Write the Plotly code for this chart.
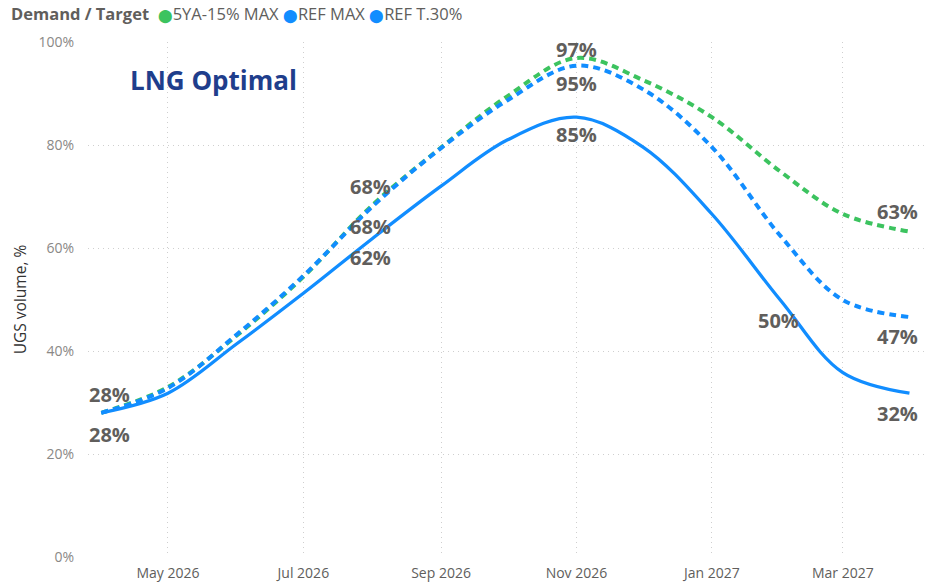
import plotly.graph_objects as go

# ---- data ----
dates = ["2026-04-01", "2026-05-01", "2026-06-01", "2026-07-01", "2026-08-01",
         "2026-09-01", "2026-10-01", "2026-11-01", "2026-12-01", "2027-01-01",
         "2027-02-01", "2027-03-01", "2027-03-31"]
green_5ya = [28.0, 33.0, 43.0, 54.4, 68.3, 79.5, 89.5, 96.9, 92.6, 85.4, 74.8, 66.6, 63.2]
ref_max = [28.0, 32.8, 43.2, 54.6, 68.0, 79.4, 88.7, 95.4, 90.8, 79.6, 62.3, 49.9, 46.6]
ref_t30 = [28.0, 31.8, 41.4, 51.2, 61.8, 72.0, 81.0, 85.4, 79.6, 66.6, 49.8, 35.8, 31.8]

series_names = ["5YA-15% MAX", "REF MAX", "REF T.30%"]
legend_title = "Demand / Target"
chart_title = "LNG Optimal"
y_ticks = [0, 20, 40, 60, 80, 100]
y_tick_labels = ["0%", "20%", "40%", "60%", "80%", "100%"]
x_ticks = ["2026-05-01", "2026-07-01", "2026-09-01", "2026-11-01", "2027-01-01", "2027-03-01"]
x_tick_labels = ["May 2026", "Jul 2026", "Sep 2026", "Nov 2026", "Jan 2027", "Mar 2027"]

# data labels: (series index, point index, yshift, xshift)
label_spec = [
    (1, 0, 18, 8), (2, 0, -22, 8),
    (0, 4, 19, -2), (1, 4, -20, -2), (2, 4, -19, -2),
    (0, 7, 8, 0), (1, 7, -18, 0), (2, 7, -17, 0),
    (2, 10, -20, -2),
    (0, 12, 20, -12), (1, 12, -19, -12), (2, 12, -20, -12),
]

GREEN = "#3CC35F"
BLUE = "#118DFF"
all_series = [green_5ya, ref_max, ref_t30]
dash_style = "7px,5px"

fig = go.Figure()
fig.add_trace(go.Scatter(x=dates, y=green_5ya, name=series_names[0], mode="lines",
                         line=dict(color=GREEN, width=4, dash=dash_style, shape="spline", smoothing=1.0)))
fig.add_trace(go.Scatter(x=dates, y=ref_max, name=series_names[1], mode="lines",
                         line=dict(color=BLUE, width=4, dash=dash_style, shape="spline", smoothing=1.0)))
fig.add_trace(go.Scatter(x=dates, y=ref_t30, name=series_names[2], mode="lines",
                         line=dict(color=BLUE, width=3.3, shape="spline", smoothing=1.0)))

annotations = []
for s, i, ys, xs in label_spec:
    annotations.append(dict(x=dates[i], y=all_series[s][i], xref="x", yref="y",
                            text=f"{round(all_series[s][i])}%", showarrow=False,
                            yshift=ys, xshift=xs,
                            font=dict(family="Open Sans", size=20, color="#605E5C", weight="bold")))

# chart title
annotations.append(dict(x=0.0, xshift=40, y=1.0, yshift=-38, xref="paper", yref="paper",
                        xanchor="left", yanchor="middle",
                        text=f"<b>{chart_title}</b>", showarrow=False,
                        font=dict(family="Open Sans", size=26, color="#1F3E8C")))

# legend (compact, Power BI style)
leg_colors = [GREEN, BLUE, BLUE]
leg_text = f"<b>{legend_title}</b>  " + " ".join(
    f"<span style='color:{c};font-size:13px'>⬤</span>{n}" for c, n in zip(leg_colors, series_names))
annotations.append(dict(x=0.0, xshift=-79, y=1.0, yshift=29, xref="paper", yref="paper",
                        xanchor="left", yanchor="middle", text=leg_text, showarrow=False,
                        font=dict(family="Open Sans", size=16.5, color="#605E5C")))

fig.update_layout(
    width=925, height=583,
    margin=dict(l=88, r=0, t=42, b=26),
    paper_bgcolor="white", plot_bgcolor="white",
    showlegend=False,
    font=dict(family="Open Sans", color="#605E5C"),
    annotations=annotations,
)
fig.update_xaxes(
    range=["2026-03-26", "2027-04-07"],
    tickvals=x_ticks, ticktext=x_tick_labels,
    showgrid=True, gridcolor="#CFCFCF", griddash="1px,4px", gridwidth=1,
    zeroline=False, showline=False,
    ticks="outside", ticklen=3, tickcolor="rgba(0,0,0,0)",
    tickfont=dict(family="Open Sans", size=14, color="#605E5C"),
)
fig.update_yaxes(
    range=[0, 100], tickvals=y_ticks, ticktext=y_tick_labels,
    showgrid=True, gridcolor="#CFCFCF", griddash="1px,4px", gridwidth=1,
    zeroline=False, showline=False,
    ticks="outside", ticklen=10, tickcolor="rgba(0,0,0,0)",
    tickfont=dict(family="Open Sans", size=14, color="#8A8886"),
    title=dict(text="UGS volume, %", standoff=8,
               font=dict(family="Open Sans", size=15.5, color="#333333")),
)

fig.write_html("out.html", config={"displayModeBar": False},
               post_script="document.body.style.margin='0';")
